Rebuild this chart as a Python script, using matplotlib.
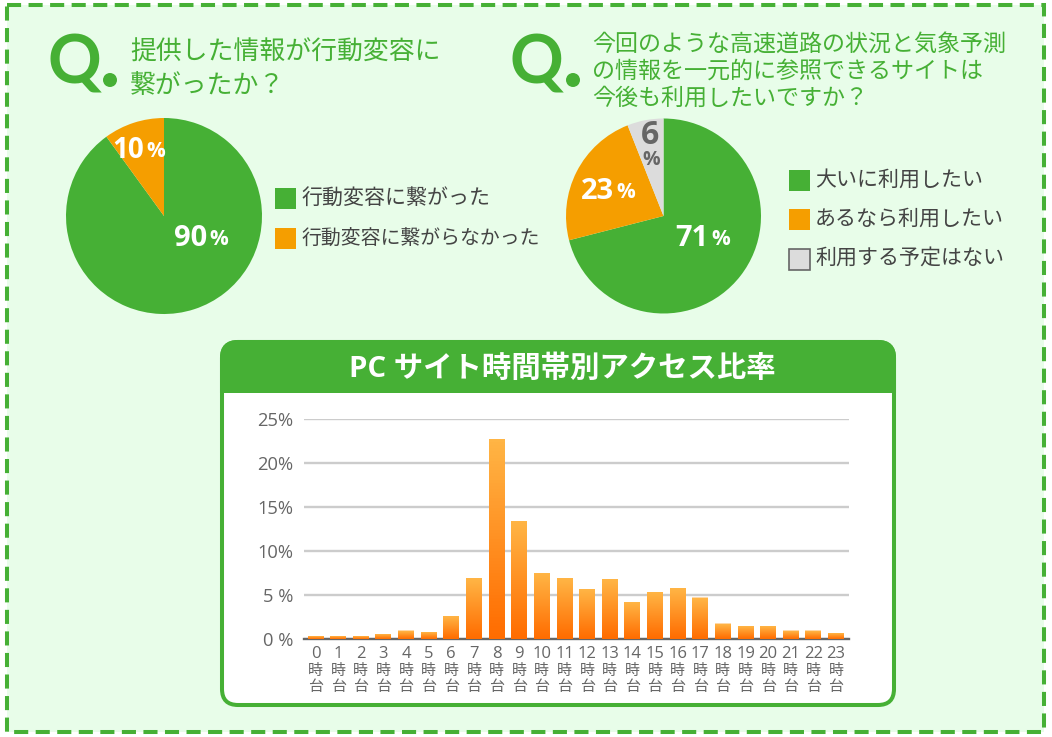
import numpy as np
import matplotlib
matplotlib.use("Agg")
import matplotlib.pyplot as plt
from matplotlib.patches import Rectangle, FancyBboxPatch, Circle
from matplotlib.colors import LinearSegmentedColormap

# ---- data ----
pie1_values = [90, 10]
pie1_labels = ["行動変容に繋がった", "行動変容に繋がらなかった"]
pie2_values = [71, 23, 6]
pie2_labels = ["大いに利用したい", "あるなら利用したい", "利用する予定はない"]
hours = list(range(24))
access = [0.35, 0.35, 0.35, 0.53, 0.95, 0.8, 2.6, 6.9, 22.7, 13.4, 7.5, 6.9,
          5.65, 6.8, 4.2, 5.3, 5.75, 4.7, 1.75, 1.45, 1.45, 0.95, 0.95, 0.65]
y_ticks = [0, 5, 10, 15, 20, 25]
y_tick_labels = ["0 %", "5 %", "10%", "15%", "20%", "25%"]
q1_lines = ["提供した情報が行動変容に", "繋がったか？"]
q2_lines = ["今回のような高速道路の状況と気象予測",
            "の情報を一元的に参照できるサイトは",
            "今後も利用したいですか？"]
panel_title = "PC サイト時間帯別アクセス比率"

GREEN, ORANGE, GRAY = "#46B035", "#F59E00", "#DCDCDC"
BG, DARK, MID = "#E8FDE9", "#444444", "#666666"
JP = ["Noto Sans CJK JP", "DejaVu Sans"]
LAT = ["Open Sans", "Noto Sans CJK JP", "DejaVu Sans"]
plt.rcParams["font.family"] = JP

W, H = 1052, 737
fig = plt.figure(figsize=(W / 100, H / 100), dpi=100, facecolor="white")

def px_axes(x0, y0, x1, y1, **kw):
    return fig.add_axes([x0 / W, 1 - y1 / H, (x1 - x0) / W, (y1 - y0) / H], **kw)

# canvas in pixel coordinates
bg = px_axes(0, 0, W, H)
bg.set_xlim(0, W); bg.set_ylim(H, 0); bg.axis("off")
bg.add_patch(Rectangle((7, 5), 1037, 727, fc=BG, ec=GREEN, lw=2.9,
                       ls=(0, (3.5, 1.85))))

# panel
bg.add_patch(FancyBboxPatch((222, 342), 672, 363, boxstyle="round,pad=0,rounding_size=16",
                            fc="white", ec=GREEN, lw=2.9))
head = FancyBboxPatch((222, 342), 672, 120, boxstyle="round,pad=0,rounding_size=16",
                      fc=GREEN, ec=GREEN, lw=2.9)
bg.add_patch(head)
head.set_clip_path(Rectangle((215, 335), 690, 58, transform=bg.transData))
bg.text(562, 369, panel_title, color="white", fontsize=21.2, fontweight="bold",
        ha="center", va="center", family=LAT)

# Q marks and questions
for qx in (47, 510):
    bg.text(qx, 64, "Q", color=GREEN, fontsize=48, fontweight="bold", family="Lato",
            ha="left", va="center")
    bg.add_patch(Circle((qx + 63, 80), 7, fc=GREEN, ec="none"))
for line, y in zip(q1_lines, (52, 85)):
    bg.text(130, y, line, color=GREEN, fontsize=18.6, ha="left", va="center")
for line, y in zip(q2_lines, (44, 71, 98)):
    bg.text(592, y, line, color=GREEN, fontsize=16.6, ha="left", va="center")

# pies
def pie(cx, cy, r, vals, cols):
    a = px_axes(cx - r, cy - r, cx + r, cy + r)
    a.pie(vals, colors=cols, startangle=90, counterclock=False, radius=1,
          wedgeprops=dict(linewidth=0))
    a.set_xlim(-1, 1); a.set_ylim(-1, 1); a.set_facecolor("none")
    return a

pie(164, 216, 98, pie1_values, [GREEN, ORANGE])
pie(663.5, 216, 97.5, pie2_values, [GREEN, ORANGE, GRAY])

# percentage labels (drawn above the pies)
top = px_axes(0, 0, W, H)
top.set_xlim(0, W); top.set_ylim(H, 0); top.axis("off"); top.patch.set_alpha(0)

def pct(x, y, val, color="white", size=21):
    top.text(x, y, str(val), color=color, fontsize=size, fontweight="bold",
             family="Open Sans", ha="right", va="center")
    top.text(x + 2, y + 1.5, "%", color=color, fontsize=15, fontweight="bold",
             family="Open Sans", ha="left", va="center")

pct(207, 238, pie1_values[0])
pct(144, 150, pie1_values[1], size=20)
pct(709, 238, pie2_values[0])
pct(614, 191, pie2_values[1])
top.text(650, 135, str(pie2_values[2]), color=MID, fontsize=23, fontweight="bold",
         family="Open Sans", ha="center", va="center")
top.text(651, 160, "%", color=MID, fontsize=14, fontweight="bold",
         family="Open Sans", ha="center", va="center")

# legends
def legend(x, tx, ys, labels, cols, sizes, dy, s=21):
    for y, lab, c, fs in zip(ys, labels, cols, sizes):
        edge = MID if c == GRAY else "none"
        top.add_patch(Rectangle((x, y - s / 2), s, s, fc=c, ec=edge, lw=1.2))
        top.text(tx, y + dy, lab, color=DARK, fontsize=fs, ha="left", va="center")

legend(275, 302, (198, 238), pie1_labels, [GREEN, ORANGE], (15.1, 14.3), 0)
legend(789, 815, (180.5, 219.5, 259.5), pie2_labels, [GREEN, ORANGE, GRAY],
       (15.1, 15.1, 15.1), -1)

# bar chart
step = 22.63
x0px, x1px = 304, 849
ax = px_axes(x0px, 418.7, x1px, 638.7)
ax.set_facecolor("none")
ax.yaxis.grid(True, color="#CCCCCC", lw=1.7)
ax.set_axisbelow(True)
for s in ("top", "right", "left"):
    ax.spines[s].set_visible(False)
ax.spines["bottom"].set_color(MID)
ax.spines["bottom"].set_linewidth(1.7)
cmap = LinearSegmentedColormap.from_list("barg", ["#FFB545", "#FF6C00"])
grad = np.linspace(0, 1, 64).reshape(-1, 1)
width = 0.7
ax.bar(hours, access, width=width, color="#FFD9A8", linewidth=0, zorder=2)
for h, v in zip(hours, access):
    ax.imshow(grad, extent=(h - width / 2, h + width / 2, 0, max(v - 0.06, 0)), cmap=cmap,
              aspect="auto", origin="upper", zorder=3)
ax.set_xlim((x0px - 315.5) / step, (x1px - 315.5) / step)
ax.set_ylim(0, 25)
ax.set_yticks(y_ticks)
ax.set_yticklabels(y_tick_labels, family=LAT, fontsize=13.2, color=MID)
ax.set_xticks(hours)
ax.set_xticklabels([str(h) for h in hours], family=LAT, fontsize=12, color=MID)
ax.tick_params(axis="both", length=0)
ax.tick_params(axis="y", pad=8)
ax.tick_params(axis="x", pad=5)
# the two stacked kanji under each hour number
for h in hours:
    for ch, off in (("時", -23.3), ("台", -34.8)):
        ax.annotate(ch, xy=(h, 0), xytext=(0, off), textcoords="offset points",
                    annotation_clip=False, ha="center", va="center",
                    fontsize=10.8, color=MID)

fig.savefig("out.png", dpi=100, facecolor="white")
